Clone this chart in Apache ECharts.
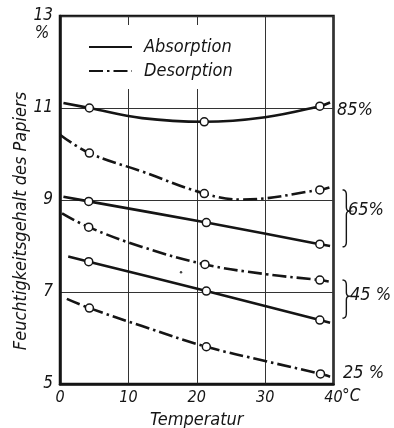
<!DOCTYPE html>
<html><head><meta charset="utf-8">
<script src="https://cdn.jsdelivr.net/npm/echarts@6/dist/echarts.min.js"></script>
<style>html,body{margin:0;padding:0;background:#fff}#c{width:394px;height:428px}</style>
</head><body><div id="c"></div>
<script>
// ---- data ----
const xTicks = [0, 10, 20, 30, 40];
const yTicks = [5, 7, 9, 11, 13];
const seriesNames = ['Absorption', 'Desorption'];

// 85 % rel. humidity, absorption
const abs85T = [0.5, 4.3, 12, 21.1, 30, 38.0, 39.5];
const abs85V = [11.11, 11.00, 10.78, 10.70, 10.80, 11.04, 11.12];
const abs85M = [1, 3, 5];
// upper dash-dot curve
const des65T = [0, 4.3, 12, 21.1, 26.6, 38.0, 39.4];
const des65V = [10.42, 10.02, 9.62, 9.14, 9.01, 9.22, 9.27];
const des65M = [1, 3, 5];
// 65 % absorption
const abs65T = [0.5, 4.2, 21.4, 38.0, 39.5];
const abs65V = [9.07, 8.97, 8.51, 8.04, 8.00];
const abs65M = [1, 2, 3];
// 45 % desorption
const des45T = [0.3, 4.2, 12, 21.2, 30, 38.0, 39.3];
const des45V = [8.71, 8.41, 7.98, 7.60, 7.39, 7.26, 7.23];
const des45M = [1, 3, 5];
// 45 % absorption
const abs45T = [1.2, 4.2, 21.4, 38.0, 39.5];
const abs45V = [7.77, 7.66, 7.02, 6.39, 6.33];
const abs45M = [1, 2, 3];
// 25 % desorption
const des25T = [1.0, 4.3, 12, 21.4, 30, 38.1, 39.5];
const des25V = [6.85, 6.65, 6.26, 5.81, 5.50, 5.22, 5.16];
const des25M = [1, 3, 5];
// stray printed speck
const speckT = [17.7];
const speckV = [7.43];

// right-hand humidity labels (text, value level)
const rhText = ['85%', '65%', '45 %', '25 %'];
const rhLevel = [10.96, 8.78, 6.93, 5.24];
// braces: [top value, tip value, bottom value]
const brace65 = [9.22, 8.76, 7.98];
const brace45 = [7.26, 6.91, 6.43];

// ---- chart ----
const F_NARROW = "'Liberation Sans Narrow','DejaVu Sans Condensed',sans-serif";
const F_COND = "'DejaVu Sans Condensed','DejaVu Sans',sans-serif";
const INK = '#151515';
const DASHDOT = [14, 4, 2.5, 4];

const curves = [
  {name: 'Absorption', t: abs85T, v: abs85V, m: abs85M},
  {name: 'Desorption', t: des65T, v: des65V, m: des65M},
  {name: 'Absorption', t: abs65T, v: abs65V, m: abs65M},
  {name: 'Desorption', t: des45T, v: des45V, m: des45M},
  {name: 'Absorption', t: abs45T, v: abs45V, m: abs45M},
  {name: 'Desorption', t: des25T, v: des25V, m: des25M}
];

const series = [];
curves.forEach(c => {
  series.push({
    name: c.name, type: 'line', smooth: 0.4,
    symbol: 'none', silent: true, animation: false,
    lineStyle: {color: INK, width: 2.6, type: c.name === 'Absorption' ? 'solid' : DASHDOT, cap: 'butt'},
    itemStyle: {color: INK},
    data: c.t.map((t, i) => [t, c.v[i]]),
    z: 3
  });
});
curves.forEach(c => {
  series.push({
    type: 'scatter', symbol: 'circle', symbolSize: 8, silent: true, animation: false,
    itemStyle: {color: '#fff', borderColor: INK, borderWidth: 1.5, opacity: 1},
    data: c.m.map(i => [c.t[i], c.v[i]]),
    z: 5
  });
});
series.push({
  type: 'scatter', symbol: 'circle', symbolSize: 2.5, silent: true, animation: false,
  itemStyle: {color: INK}, data: speckT.map((t, i) => [t, speckV[i]]), z: 4
});

const chart = echarts.init(document.getElementById('c'), null, {renderer: 'canvas'});
chart.setOption({
  backgroundColor: '#fff',
  animation: false,
  grid: {left: 60, top: 16, width: 273.5, height: 368, show: true, borderColor: INK, borderWidth: 2.5,
    backgroundColor: 'transparent', containLabel: false, outerBoundsMode: 'none'},
  xAxis: {
    type: 'value', min: xTicks[0], max: xTicks[xTicks.length - 1], interval: 10,
    axisLine: {show: true, lineStyle: {color: INK, width: 2.5}},
    axisTick: {show: false},
    splitLine: {show: true, lineStyle: {color: '#333', width: 1}},
    axisLabel: {margin: 6, fontFamily: F_NARROW, fontStyle: 'italic', fontSize: 16, color: INK},
    name: 'Temperatur', nameLocation: 'middle', nameGap: 26,
    nameTextStyle: {fontFamily: F_COND, fontStyle: 'italic', fontSize: 18, color: INK}
  },
  yAxis: {
    type: 'value', min: yTicks[0], max: yTicks[yTicks.length - 1], interval: 2,
    axisLine: {show: true, lineStyle: {color: INK, width: 2.5}},
    axisTick: {show: false},
    splitLine: {show: true, lineStyle: {color: '#333', width: 1}},
    axisLabel: {margin: 7, fontFamily: F_NARROW, fontStyle: 'italic', fontSize: 17, color: INK}
  },
  legend: {
    data: seriesNames, orient: 'vertical', left: 85, top: 25,
    padding: [13, 15, 9, 3], backgroundColor: '#fff', itemGap: 6,
    itemWidth: 43, itemHeight: 18, selectedMode: false,
    itemStyle: {color: 'rgba(0,0,0,0)', borderWidth: 0, opacity: 0},
    textStyle: {fontFamily: F_COND, fontStyle: 'italic', fontSize: 18, color: INK, padding: [0, 0, 0, 7]}
  },
  series: series
});

function px(x, y) { return chart.convertToPixel({gridIndex: 0}, [x, y]); }
function quad(p0, p1, p2, n) {
  const out = [];
  for (let k = 1; k <= n; k++) {
    const s = k / n, r = 1 - s;
    out.push([r*r*p0[0] + 2*r*s*p1[0] + s*s*p2[0], r*r*p0[1] + 2*r*s*p1[1] + s*s*p2[1]]);
  }
  return out;
}
function bracePoints(b, xLeft, w) {
  const y1 = px(40, b[0])[1], ym = px(40, b[1])[1], y2 = px(40, b[2])[1];
  const xm = xLeft + w * 0.55, xt = xLeft + w;
  let pts = [[xLeft, y1]];
  pts = pts.concat(quad([xLeft, y1], [xm, y1], [xm, y1 + 5], 6));
  pts.push([xm, ym - 4]);
  pts = pts.concat(quad([xm, ym - 4], [xm, ym], [xt, ym], 5));
  pts = pts.concat(quad([xt, ym], [xm, ym], [xm, ym + 4], 5));
  pts.push([xm, y2 - 5]);
  pts = pts.concat(quad([xm, y2 - 5], [xm, y2], [xLeft, y2], 6));
  return pts;
}

const x40 = px(40, 5)[0];
const labelFont = {fontFamily: F_COND, fontStyle: 'italic', fontSize: 18, fill: INK};
const rhDx = [3.5, 14.5, 16.5, 9.5];
const graphics = [];
rhText.forEach((t, i) => {
  graphics.push({type: 'text', x: x40 + rhDx[i], y: px(40, rhLevel[i])[1], silent: true,
    style: Object.assign({text: t, align: 'left', verticalAlign: 'middle'}, labelFont)});
});
[brace65, brace45].forEach(b => {
  graphics.push({type: 'polyline', silent: true,
    shape: {points: bracePoints(b, x40 + 9, 7)},
    style: {stroke: INK, lineWidth: 1.4, fill: null}});
});
const p13 = px(0, 13);
graphics.push({type: 'text', x: p13[0] - 18, y: p13[1] + 18, silent: true,
  style: {text: '%', align: 'center', verticalAlign: 'middle', fontFamily: F_NARROW, fontStyle: 'italic', fontSize: 17, fill: INK}});
const p40 = px(40, 5);
graphics.push({type: 'text', x: p40[0] + 8.5, y: p40[1] + 13, silent: true,
  style: {text: '°C', align: 'left', verticalAlign: 'middle', fontFamily: F_NARROW, fontStyle: 'italic', fontSize: 17, fill: INK}});
graphics.push({type: 'text', x: 21, y: 221, rotation: Math.PI / 2, silent: true,
  style: {text: 'Feuchtigkeitsgehalt des Papiers', align: 'center', verticalAlign: 'middle',
    fontFamily: F_COND, fontStyle: 'italic', fontSize: 18, fill: INK}});
chart.setOption({graphic: {elements: graphics}});
</script>
</body></html>
